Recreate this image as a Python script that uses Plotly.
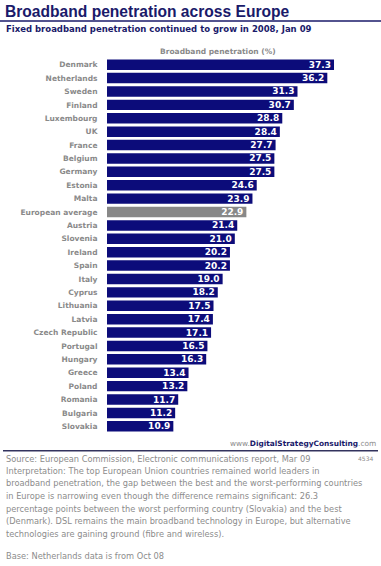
import plotly.graph_objects as go

countries = ["Denmark", "Netherlands", "Sweden", "Finland", "Luxembourg", "UK", "France",
             "Belgium", "Germany", "Estonia", "Malta", "European average", "Austria", "Slovenia",
             "Ireland", "Spain", "Italy", "Cyprus", "Lithuania", "Latvia", "Czech Republic",
             "Portugal", "Hungary", "Greece", "Poland", "Romania", "Bulgaria", "Slovakia"]
values = [37.3, 36.2, 31.3, 30.7, 28.8, 28.4, 27.7, 27.5, 27.5, 24.6, 23.9, 22.9, 21.4, 21.0,
          20.2, 20.2, 19.0, 18.2, 17.5, 17.4, 17.1, 16.5, 16.3, 13.4, 13.2, 11.7, 11.2, 10.9]
highlight = "European average"

title = "Broadband penetration across Europe"
subtitle = "Fixed broadband penetration continued to grow in 2008, Jan 09"
axis_title = "Broadband penetration (%)"
source_lines = [
    "Source: European Commission, Electronic communications report, Mar 09",
    "Interpretation: The top European Union countries remained world leaders in",
    "broadband penetration, the gap between the best and the worst-performing countries",
    "in Europe is narrowing even though the difference remains significant: 26.3",
    "percentage points between the worst performing country (Slovakia) and the best",
    "(Denmark). DSL remains the main broadband technology in Europe, but alternative",
    "technologies are gaining ground (fibre and wireless).",
]
base_note = "Base: Netherlands data is from Oct 08"
code = "4534"

NAVY = "#0c0c7a"
TITLE_NAVY = "#1a1a6a"
GREY = "#8a8a8a"
TXT_GREY = "#8c8c8c"
FONT = "Verdana, DejaVu Sans, sans-serif"

Wf, Hf = 381, 566
L, R, T, B = 107, 3, 58, 133
PW, PH = Wf - L - R, Hf - T - B
PX_PER_UNIT = 6.086

def fx(p):
    return (p - L) / PW

def fy(p):
    return 1 - (p - T) / PH

n = len(countries)
colors = ["#888888" if c == highlight else NAVY for c in countries]

fig = go.Figure(go.Bar(
    x=values, y=countries, orientation="h",
    marker=dict(color=colors, line=dict(width=0)),
    texttemplate="<b>%{x:.1f}</b>", textposition="inside", insidetextanchor="end",
    textangle=0, textfont=dict(color="white", size=9, family=FONT),
    cliponaxis=False, hoverinfo="skip",
))

fig.update_layout(
    width=Wf, height=Hf,
    margin=dict(l=L, r=R, t=T, b=B, pad=0),
    paper_bgcolor="white", plot_bgcolor="white",
    bargap=0.22, showlegend=False,
    uniformtext=dict(minsize=9, mode="show"),
    xaxis=dict(range=[0, PW / PX_PER_UNIT], visible=False, fixedrange=True),
    yaxis=dict(type="category", range=[n - 0.5, -0.5], showgrid=False, zeroline=False,
               showline=False, ticks="outside", ticklen=7, tickcolor="rgba(0,0,0,0)",
               tickfont=dict(family=FONT, size=7.5, color=GREY, weight="bold"),
               fixedrange=True),
    font=dict(family=FONT),
)

ann = []
ann.append(dict(text=f"<b>{title}</b>", x=fx(3), y=fy(11.5), xanchor="left", yanchor="middle",
                font=dict(family="Liberation Sans, Arial, sans-serif", size=15.6, color=TITLE_NAVY)))
ann.append(dict(text=f"<b>{subtitle}</b>", x=fx(4), y=fy(29), xanchor="left", yanchor="middle",
                font=dict(family=FONT, size=8.5, color=TITLE_NAVY)))
ann.append(dict(text=f"<b>{axis_title}</b>", x=fx(218), y=fy(52), xanchor="center", yanchor="middle",
                font=dict(family=FONT, size=7.5, color=GREY)))
ann.append(dict(text="www.<b><span style='color:%s'>DigitalStrategyConsulting</span></b>.com" % TITLE_NAVY,
                x=fx(378), y=fy(443), xanchor="right", yanchor="middle",
                font=dict(family=FONT, size=7.4, color=TXT_GREY)))
ann.append(dict(text=code, x=fx(375), y=fy(459), xanchor="right", yanchor="middle",
                font=dict(family=FONT, size=6, color=TXT_GREY)))
line_y = [458.7, 470.9, 483.3, 496, 508.6, 521, 533.6]
for t, yy in zip(source_lines, line_y):
    ann.append(dict(text=t, x=fx(4), y=fy(yy), xanchor="left", yanchor="middle",
                    font=dict(family=FONT, size=8.25, color=TXT_GREY)))
ann.append(dict(text=base_note, x=fx(4), y=fy(556), xanchor="left", yanchor="middle",
                font=dict(family=FONT, size=8.25, color=TXT_GREY)))
for a in ann:
    a.update(xref="paper", yref="paper", showarrow=False)
fig.update_layout(annotations=ann)

fig.add_shape(type="line", xref="paper", yref="paper", x0=fx(0), x1=fx(381), y0=fy(21), y1=fy(21),
              line=dict(color=TITLE_NAVY, width=1.5))
fig.add_shape(type="line", xref="paper", yref="paper", x0=fx(3), x1=fx(378), y0=fy(450.7), y1=fy(450.7),
              line=dict(color="#33335e", width=1.5))

fig.write_html("out.html", config={"displayModeBar": False, "staticPlot": True},
               post_script="document.body.style.margin='0';")
